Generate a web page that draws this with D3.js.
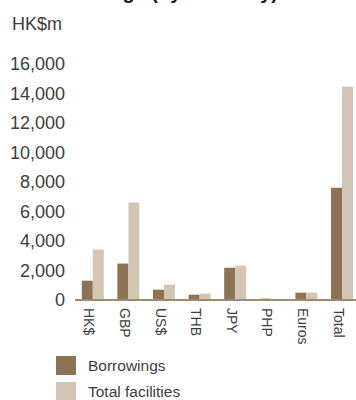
<!DOCTYPE html>
<html>
<head>
<meta charset="utf-8">
<script src="https://cdn.jsdelivr.net/npm/d3@7/dist/d3.min.js"></script>
<style>
  html, body { margin: 0; padding: 0; background: #fff; }
  svg { display: block; font-family: "Liberation Sans", Arial, Helvetica, sans-serif; }
</style>
</head>
<body>
<svg id="chart" width="356" height="400"></svg>
<script>
// Currencies along the x axis
const categories = ["HK$", "GBP", "US$", "THB", "JPY", "PHP", "Euros", "Total"];
// HK$ million
const borrowings = [1310, 2470, 700, 360, 2190, 90, 500, 7610];
const totalFacilities = [3420, 6610, 1040, 430, 2330, 70, 500, 14470];
const seriesNames = ["Borrowings", "Total facilities"];
const yTicks = [0, 2000, 4000, 6000, 8000, 10000, 12000, 14000, 16000];

const colors = { "Borrowings": "#8c7354", "Total facilities": "#d3c5b4" };
const textColor = "#3d3d3d";

const svg = d3.select("#chart");

// Clipped chart title at the very top
svg.append("text")
  .attr("x", 278).attr("y", -1)
  .attr("text-anchor", "end")
  .attr("font-size", 20).attr("font-weight", "bold")
  .attr("fill", "#1a1a1a")
  .text("Borrowings (by currency)");

// Unit label
svg.append("text")
  .attr("x", 12).attr("y", 30)
  .attr("font-size", 18).attr("fill", textColor)
  .text("HK$m");

const x0 = d3.scaleBand()
  .domain(categories)
  .range([75, 359.8])
  .paddingInner(0.382)
  .paddingOuter(0.191);

const x1 = d3.scaleBand()
  .domain(seriesNames)
  .range([0, x0.bandwidth()]);

const y = d3.scaleLinear().domain([0, 16000]).range([300, 64]);

// Y axis labels (no axis line or ticks)
const yAxis = svg.append("g")
  .attr("transform", "translate(65,0)")
  .call(d3.axisLeft(y).tickValues(yTicks).tickSize(0).tickPadding(0)
    .tickFormat(d3.format(",")));
yAxis.select(".domain").remove();
yAxis.selectAll("text")
  .attr("font-size", 18)
  .attr("fill", textColor)
  .attr("font-family", "\"Liberation Sans\", Arial, sans-serif");

// Bars
const rows = categories.map((c, i) => ({
  cat: c,
  values: [
    { key: "Borrowings", value: borrowings[i] },
    { key: "Total facilities", value: totalFacilities[i] }
  ]
}));

const groups = svg.append("g").selectAll("g")
  .data(rows).join("g")
  .attr("transform", d => `translate(${x0(d.cat)},0)`);

groups.selectAll("rect")
  .data(d => d.values).join("rect")
  .attr("x", d => x1(d.key))
  .attr("width", x1.bandwidth())
  .attr("y", d => y(d.value))
  .attr("height", d => y(0) - y(d.value))
  .attr("fill", d => colors[d.key]);

// X axis baseline
const xAxis = svg.append("g")
  .attr("transform", `translate(0,${y(0)})`)
  .call(d3.axisBottom(x0).tickSize(0).tickFormat(""));
xAxis.select(".domain")
  .attr("stroke", "#a08a6e")
  .attr("stroke-width", 2)
  .attr("d", "M75,0H360");

// Rotated category labels
svg.append("g").selectAll("text")
  .data(categories).join("text")
  .attr("transform", d => `translate(${x0(d) + x0.bandwidth() / 2 - 3.5},308) rotate(90)`)
  .attr("dy", "0.35em")
  .attr("font-size", 14)
  .attr("fill", textColor)
  .text(d => d);

// Legend
const legend = svg.append("g").selectAll("g")
  .data(seriesNames).join("g")
  .attr("transform", (d, i) => `translate(56,${356 + i * 26})`);
legend.append("rect")
  .attr("width", 20).attr("height", 19)
  .attr("fill", d => colors[d]);
legend.append("text")
  .attr("x", 32).attr("y", 10)
  .attr("dy", "0.35em")
  .attr("font-size", 15.5)
  .attr("fill", textColor)
  .text(d => d);
</script>
</body>
</html>
